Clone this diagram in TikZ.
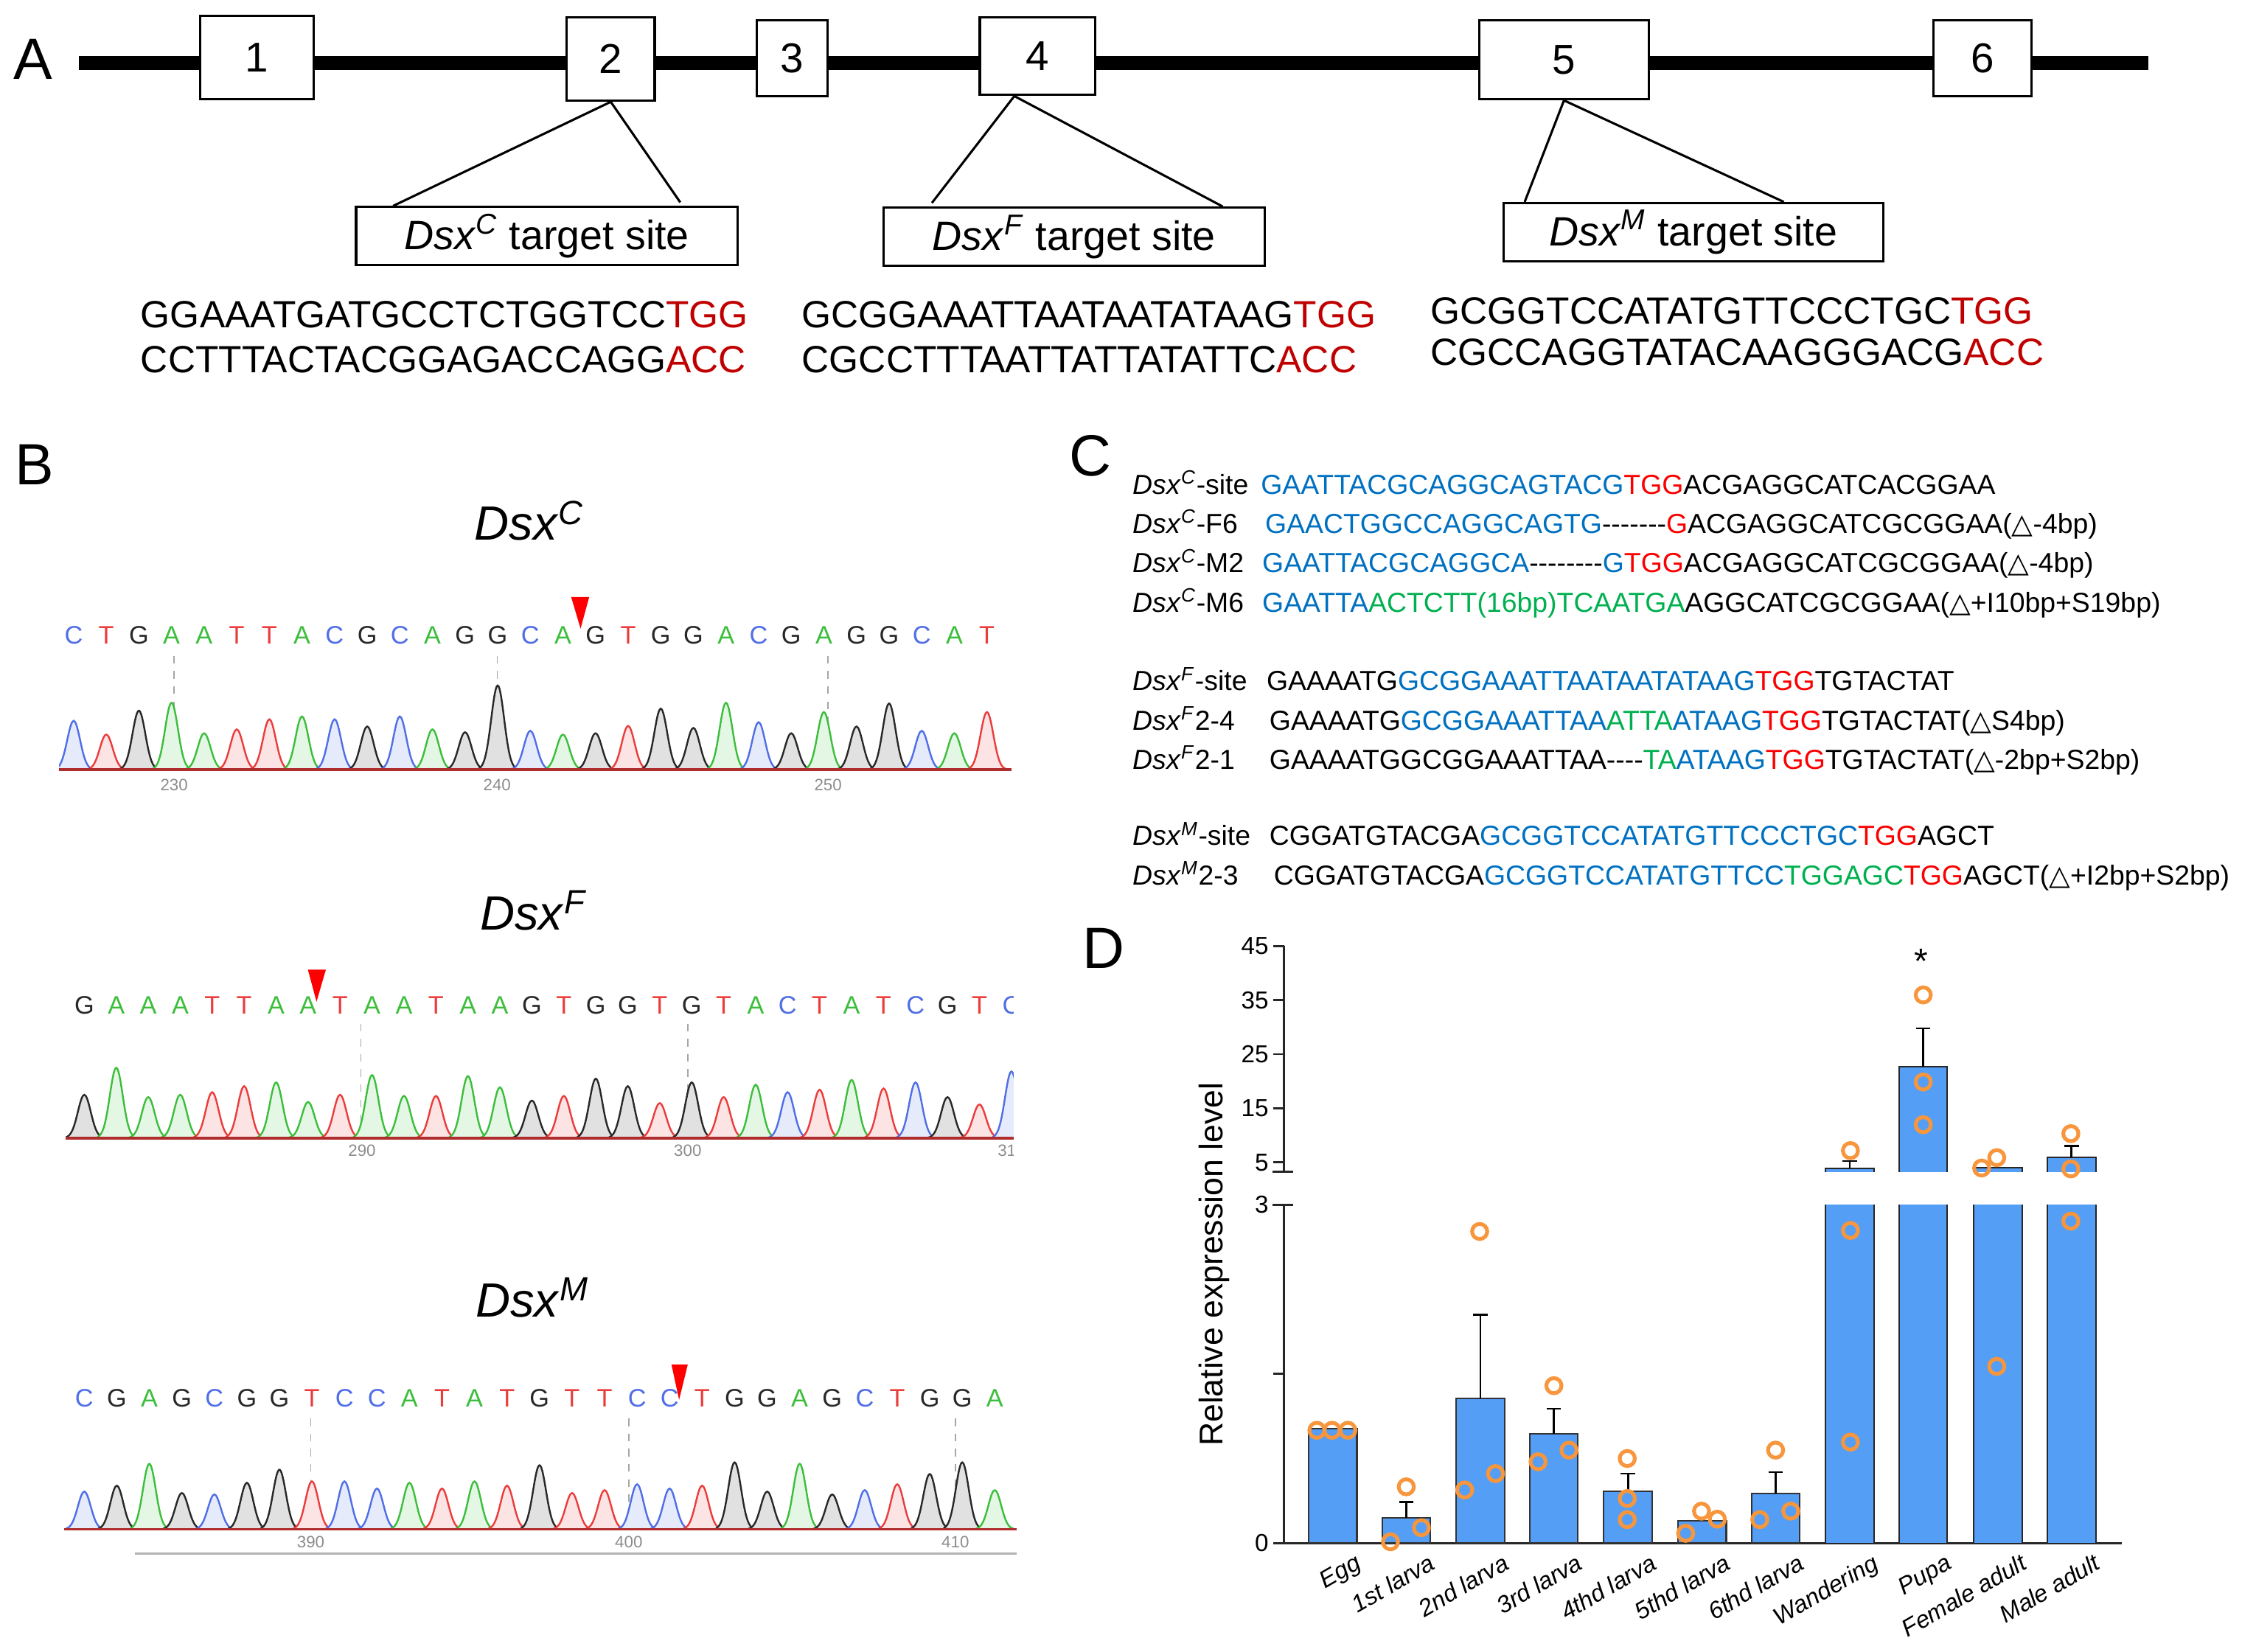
\documentclass[tikz,border=0pt]{standalone}
\usepackage{fontspec}
\setmainfont{Liberation Sans}
\newfontfamily\symf{DejaVu Sans}
\usetikzlibrary{calc}

\definecolor{pamA}{RGB}{192,0,0}
\definecolor{pamC}{RGB}{250,0,0}
\definecolor{sgblue}{RGB}{0,112,192}
\definecolor{sggreen}{RGB}{0,176,80}
\definecolor{baseA}{RGB}{60,190,60}
\definecolor{baseC}{RGB}{80,110,230}
\definecolor{baseG}{RGB}{40,40,40}
\definecolor{baseT}{RGB}{235,60,60}
\definecolor{barblue}{RGB}{84,158,245}
\definecolor{dotorange}{RGB}{247,150,60}
\definecolor{cutred}{RGB}{255,0,0}

\newcommand{\fsz}[1]{\fontsize{#1}{#1}\selectfont}
\newcommand{\dsx}[1]{\textit{Dsx}\textsuperscript{\textit{#1}}}
\newcommand{\sqb}[1]{\textcolor{sgblue}{#1}}
\newcommand{\sqr}[1]{\textcolor{pamC}{#1}}
\newcommand{\sqg}[1]{\textcolor{sggreen}{#1}}
\newcommand{\tri}{{\symf △}}

\begin{document}
\begin{tikzpicture}[x=0.2mm, y=-0.2mm,
  gene/.style={line width=5.6pt},
  exon/.style={draw, fill=white, line width=0.9pt, inner sep=0pt, font=\fsz{16.5pt}},
  sitebox/.style={draw, fill=white, line width=0.9pt, inner sep=0pt, minimum width=53mm, minimum height=8.1mm, font=\fsz{16.2pt}},
  zoomline/.style={line width=0.9pt},
  seqtext/.style={anchor=base west, inner sep=0pt, font=\fsz{15pt}},
  panel/.style={inner sep=0pt, font=\fsz{23pt}},
  chromtitle/.style={inner sep=0pt, font=\fsz{19pt}},
  trace/.style={line width=0.7pt},
  ntxt/.style={anchor=base, inner sep=0pt, font=\fsz{10pt}},
  poslbl/.style={inner sep=0pt, text=black!45, font=\fsz{6.5pt}},
  tickline/.style={black!35, dashed, line width=0.4pt},
  zeroline/.style={baseT!75!black, line width=1.1pt},
  mlbl/.style={anchor=base west, inner sep=0pt, font=\fsz{10.9pt}},
  mseq/.style={anchor=base west, inner sep=0pt, font=\fsz{10.9pt}},
  axisline/.style={line width=0.8pt, black!85},
  ticklbl/.style={anchor=east, inner sep=0pt, font=\fsz{9.7pt}},
  bar/.style={fill=barblue, draw=black!80, line width=0.6pt},
  errbar/.style={line width=0.8pt},
  datadot/.style={draw=dotorange, line width=1.5pt},
  stage/.style={anchor=north east, rotate=30, inner sep=0pt, font=\fsz{9.5pt}\itshape}]
\useasboundingbox (0,0) rectangle (1568,1148);

% panel labels
\node[panel] (lblA) at (23,41) {A};
\node[panel] (lblB) at (24,323) {B};
\node[panel] (lblC) at (758,317) {C};
\node[panel] (lblD) at (767,659) {D};

% A: gene model
\draw[gene] (55,44) -- (1493,44);
\node[exon, minimum width=15.8mm, minimum height=11.6mm] (ex1) at (178.5,40) {1};
\node[exon, minimum width=12.2mm, minimum height=11.6mm] (ex2) at (424.5,41) {2};
\node[exon, minimum width=9.8mm, minimum height=10.6mm] (ex3) at (550.5,40.5) {3};
\node[exon, minimum width=16mm, minimum height=10.8mm] (ex4) at (721,39) {4};
\node[exon, minimum width=23.6mm, minimum height=11mm] (ex5) at (1087,41.5) {5};
\node[exon, minimum width=13.6mm, minimum height=10.6mm] (ex6) at (1378,40.5) {6};

\node[sitebox] (siteC) at (380,164.2) {\dsx{C} target site};
\node[sitebox] (siteF) at (746.5,164.6) {\dsx{F} target site};
\node[sitebox, minimum width=52.8mm] (siteM) at (1177,161.4) {\dsx{M} target site};

\draw[zoomline] (ex2.south) -- ($(siteC.north west)+(26.5,0)$);
\draw[zoomline] (ex2.south) -- ($(siteC.north east)+(-40.5,-2.5)$);
\draw[zoomline] ($(ex4.south)+(-16,0)$) -- ($(siteF.north west)+(34.5,-2.5)$);
\draw[zoomline] ($(ex4.south)+(-16,0)$) -- ($(siteF.north east)+(-30,0)$);
\draw[zoomline] (ex5.south) -- ($(siteM.north west)+(15.5,0)$);
\draw[zoomline] (ex5.south) -- ($(siteM.north east)+(-70,0)$);

\node[seqtext] (sqC1) at (97.5,228) {GGAAATGATGCCTCTGGTCC\textcolor{pamA}{TGG}};
\node[seqtext] (sqC2) at (97.5,259) {CCTTTACTACGGAGACCAGG\textcolor{pamA}{ACC}};
\node[seqtext] (sqF1) at (557,228) {GCGGAAATTAATAATATAAG\textcolor{pamA}{TGG}};
\node[seqtext] (sqF2) at (557,259) {CGCCTTTAATTATTATATTC\textcolor{pamA}{ACC}};
\node[seqtext] (sqM1) at (994,225) {GCGGTCCATATGTTCCCTGC\textcolor{pamA}{TGG}};
\node[seqtext] (sqM2) at (994,254) {CGCCAGGTATACAAGGGACG\textcolor{pamA}{ACC}};

% B: chromatograms
\node[chromtitle] (tC) at (368,362) {\dsx{C}};
\node[chromtitle] (tF) at (371,633) {\dsx{F}};
\node[chromtitle] (tM) at (370,902) {\dsx{M}};

% Dsx^C trace
\foreach \xg in {121,345.5,575.5} \draw[tickline] (\xg,456) -- (\xg,534);
\begin{scope}
\clip (41,400) rectangle (703,560);
\foreach \nt/\pk [count=\i from 0] in {C/501,T/510.6,G/494,A/488.5,A/509.7,T/507,T/500,A/498,C/500,G/505,C/498,A/507,G/509,G/476.5,C/508,A/510.6,G/509.7,T/504.6,G/492.6,G/506,A/488.5,C/502,G/509.7,A/495,G/505,G/489,C/508,A/509.7,T/495} {
  \pgfmathsetmacro{\xp}{51.2+22.67*\i}
  \draw[trace, draw=base\nt, fill=base\nt!14] plot[domain=-13:13, samples=27, smooth] ({\xp+\x},{535-(535-\pk)*exp(-(\x)*(\x)/40)});
  \node[ntxt, text=base\nt] (nC\i) at (\xp,447.5) {\nt};
}
\end{scope}
\draw[zeroline] (41,535) -- (703,535);
\node[poslbl] (pC1) at (121,545.5) {230};
\node[poslbl] (pC2) at (345.5,545.5) {240};
\node[poslbl] (pC3) at (575.5,545.5) {250};
\fill[cutred] (397,415) -- (409.5,415) -- (403.5,437) -- cycle;

% Dsx^F trace
\foreach \xg in {250.7,478} \draw[tickline] (\xg,711.6) -- (\xg,790);
\begin{scope}
\clip (45.7,660) rectangle (704.5,820);
\foreach \nt/\pk [count=\i from 0] in {G/761,A/742.2,A/762.6,A/761,T/759.2,T/755,A/752.4,A/766,T/761,A/747.3,A/761.8,T/761.8,A/748,A/755.8,G/765,T/761.8,G/749.8,G/755,T/766.8,G/752.4,T/762.6,A/754,C/759.2,T/757.5,A/750.7,T/756.6,C/752.4,G/762.6,T/767.7,C/744.8} {
  \pgfmathsetmacro{\xp}{58.6+22.22*\i}
  \draw[trace, draw=base\nt, fill=base\nt!14] plot[domain=-13:13, samples=27, smooth] ({\xp+\x},{791-(791-\pk)*exp(-(\x)*(\x)/40)});
  \node[ntxt, text=base\nt] (nF\i) at (\xp,704.8) {\nt};
}
\node[poslbl] (pF3) at (703,800) {310};
\end{scope}
\draw[zeroline] (45.7,791) -- (704.5,791);
\node[poslbl] (pF1) at (251.6,800) {290};
\node[poslbl] (pF2) at (478,800) {300};
\fill[cutred] (214,674) -- (226.5,674) -- (220,696.3) -- cycle;

% Dsx^M trace
\foreach \xg in {216,437,664} \draw[tickline] (\xg,986) -- (\xg,1061);
\begin{scope}
\clip (44.4,930) rectangle (706.8,1070);
\foreach \nt/\pk [count=\i from 0] in {C/1036.8,G/1032.7,A/1017.5,G/1037.8,C/1038.8,G/1030.7,G/1021.6,T/1029.7,C/1029.7,C/1034.7,A/1030.7,T/1034.7,A/1029.7,T/1032.7,G/1018.5,T/1037.8,T/1035.8,C/1031.7,C/1034.7,T/1032.7,G/1016.5,G/1036.8,A/1017.5,G/1038.8,C/1035.8,T/1031.7,G/1024.6,G/1016.5,A/1035.8} {
  \pgfmathsetmacro{\xp}{58.6+22.6*\i}
  \draw[trace, draw=base\nt, fill=base\nt!14] plot[domain=-13:13, samples=27, smooth] ({\xp+\x},{1063-(1063-\pk)*exp(-(\x)*(\x)/40)});
  \node[ntxt, text=base\nt] (nM\i) at (\xp,978) {\nt};
}
\end{scope}
\draw[zeroline] (44.4,1063) -- (706.8,1063);
\draw[black!30, line width=0.8pt] (93.8,1080) -- (706.8,1080);
\node[poslbl] (pM1) at (216,1072) {390};
\node[poslbl] (pM2) at (437,1072) {400};
\node[poslbl] (pM3) at (664,1072) {410};
\fill[cutred] (466.7,948.6) -- (478,948.6) -- (472,973) -- cycle;

% C: mutant alleles
\node[mlbl] (lc1) at (787,343.4) {\dsx{C}-site};
\node[mseq] (sc1) at (876,343.4) {\sqb{GAATTACGCAGGCAGTACG}\sqr{TGG}ACGAGGCATCACGGAA};
\node[mlbl] (lc2) at (787,370.7) {\dsx{C}-F6};
\node[mseq] (sc2) at (879,370.7) {\sqb{GAACTGGCCAGGCAGTG}-{}-{}-{}-{}-{}-{}-\sqr{G}ACGAGGCATCGCGGAA(\tri-4bp)};
\node[mlbl] (lc3) at (787,398) {\dsx{C}-M2};
\node[mseq] (sc3) at (877,398) {\sqb{GAATTACGCAGGCA}-{}-{}-{}-{}-{}-{}-{}-\sqb{G}\sqr{TGG}ACGAGGCATCGCGGAA(\tri-4bp)};
\node[mlbl] (lc4) at (787,425.4) {\dsx{C}-M6};
\node[mseq] (sc4) at (877,425.4) {\sqb{GAATTA}\sqg{ACTCTT(16bp)TCAATGA}AGGCATCGCGGAA(\tri+I10bp+S19bp)};

\node[mlbl] (lf1) at (787,480) {\dsx{F}-site};
\node[mseq] (sf1) at (880,480) {GAAAATG\sqb{GCGGAAATTAATAATATAAG}\sqr{TGG}TGTACTAT};
\node[mlbl] (lf2) at (787,507.3) {\dsx{F}2-4};
\node[mseq] (sf2) at (882,507.3) {GAAAATG\sqb{GCGGAAATTAA}\sqg{ATTA}\sqb{ATAAG}\sqr{TGG}TGTACTAT(\tri S4bp)};
\node[mlbl] (lf3) at (787,534.6) {\dsx{F}2-1};
\node[mseq] (sf3) at (882,534.6) {GAAAATGGCGGAAATTAA-{}-{}-{}-\sqg{TA}\sqb{ATAAG}\sqr{TGG}TGTACTAT(\tri-2bp+S2bp)};

\node[mlbl] (lm1) at (787,587.6) {\dsx{M}-site};
\node[mseq] (sm1) at (882,587.6) {CGGATGTACGA\sqb{GCGGTCCATATGTTCCCTGC}\sqr{TGG}AGCT};
\node[mlbl] (lm2) at (787,614.9) {\dsx{M}2-3};
\node[mseq] (sm2) at (885,614.9) {CGGATGTACGA\sqb{GCGGTCCATATGTTCC}\sqg{TGGAGC}\sqr{TGG}AGCT(\tri+I2bp+S2bp)};

% D: expression profile
\draw[axisline] (892.4,657.6) -- (892.4,814.5);
\draw[axisline] (892.4,837.4) -- (892.4,1072.6) -- (1474.6,1072.6);
\draw[axisline] (884.3,814.5) -- (898.6,814.5) (884.3,837.4) -- (898.6,837.4);
\foreach \v/\yy in {45/657.6,35/695.2,25/732.8,15/770.4,5/808,3/837.4,0/1072.6} {
  \draw[axisline] (885,\yy) -- (892.4,\yy);
  \node[ticklbl] (yt\v) at (882,\yy) {\v};
}
\draw[axisline] (885,955) -- (892.4,955);
\node[rotate=90, inner sep=0pt, font=\fsz{13pt}] (ylab) at (843.8,879) {Relative expression level};

% bars below the break
\foreach \xc/\top in {926.3/993.3,977.4/1055.3,1028.9/972,1080/996.5,1131.5/1036.7,1183/1057,1234.1/1038}
  \draw[bar] (\xc-16.8,1072.6) rectangle (\xc+16.8,\top);
% bars cut by the break
\foreach \xc/\top in {1285.6/812,1336.7/741.6,1388.7/811.5,1439.8/804.7} {
  \fill[barblue] (\xc-16.8,1072.6) rectangle (\xc+16.8,837.4);
  \draw[axisline, line width=0.6pt] (\xc-16.8,837.4) -- (\xc-16.8,1072.6) (\xc+16.8,837.4) -- (\xc+16.8,1072.6);
  \fill[barblue] (\xc-16.8,814.5) rectangle (\xc+16.8,\top);
  \draw[axisline, line width=0.6pt] (\xc-16.8,814.5) |- (\xc+16.8,\top) -- (\xc+16.8,814.5);
}
\foreach \xc/\top/\cap in {977.4/1055.3/1043.9,1028.9/972/913.8,1080/996.5/979.2,1131.5/1036.7/1024.3,1234.1/1038/1023.3,1285.6/812/807,1336.7/741.6/714.8,1439.8/804.7/796.5}
  \draw[errbar] (\xc,\top) -- (\xc,\cap) (\xc-5,\cap) -- (\xc+5,\cap);
\foreach \px/\py in {915.3/994.2,925.8/994.2,936.8/994.2,977.4/1033.5,987.9/1061.9,966.4/1071.7,1028.4/856,1039.4/1024.3,1018/1035.7,1080/963.2,1090.5/1008,1069/1016.1,1131/1013.8,1131/1041.6,1131/1056.3,1182.6/1050.4,1193.6/1056,1171.6/1065.8,1234.1/1008,1244.6/1050.4,1223.1/1056.3,1286.1/799.8,1286.1/855.3,1286.1/1002.4,1336.7/691.6,1336.7/752.1,1336.7/781.8,1387.8/804.7,1377.3/811.9,1387.8/949.8,1439.3/788,1439.3/812.5,1439.3/848.8}
  \draw[datadot] (\px,\py) circle[radius=1.05mm];
\node[inner sep=0pt, font=\fsz{14pt}] (sig) at (1335.3,668) {*};

\foreach \xc/\st [count=\i] in {926.3/Egg,977.4/1st larva,1028.9/2nd larva,1080/3rd larva,1131.5/4thd larva,1183/5thd larva,1234.1/6thd larva,1285.6/Wandering,1336.7/Pupa,1388.7/Female adult,1439.8/Male adult}
  \node[stage] (st\i) at (\xc+15,1079) {\st};
\end{tikzpicture}
\end{document}
